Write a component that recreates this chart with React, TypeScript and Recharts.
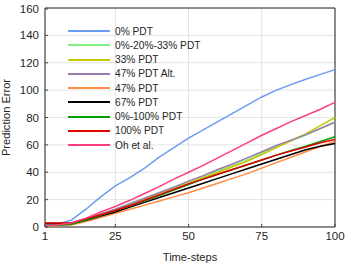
import React from "react";
import { LineChart, Line, XAxis, YAxis, CartesianGrid, ReferenceArea } from "recharts";

const steps = [1, 5, 10, 15, 20, 25, 30, 35, 40, 45, 50, 55, 60, 65, 70, 75, 80, 85, 90, 95, 100];

const pdt0 = [1.5, 2, 5, 13, 22, 30, 36, 43, 51, 58, 65, 71, 77, 83, 89, 95, 100, 104, 108, 111.5, 115];
const pdt0_20_33 = [1, 1.2, 2, 5, 9, 13, 17, 21, 25, 29, 33, 37, 41, 45, 49, 54, 59, 63, 67, 72, 77];
const pdt33 = [1, 1.2, 2, 5, 8.5, 12, 16, 20, 24, 28, 32, 36, 40, 44, 48, 53, 58, 63, 68, 74, 80];
const pdt47alt = [1, 1.5, 3, 6, 9.5, 13, 17, 21, 25, 29, 33.5, 37.5, 42, 46, 50.5, 55, 59.5, 63.5, 67.5, 72, 76.5];
const pdt47 = [1, 1, 1.5, 4, 7, 10, 13, 16, 19, 22, 25, 28.5, 32, 35.5, 39, 43, 47, 51, 55, 59, 62.5];
const pdt67 = [2.5, 2.5, 2.5, 5, 8, 11, 14.5, 18, 21.5, 25, 28.5, 32, 35.5, 39, 42.5, 46, 49.5, 53, 56.5, 59, 61];
const pdt0_100 = [1, 1.2, 2, 5, 8.5, 12, 15.5, 19, 23, 27, 31, 35, 38.5, 42, 45.5, 49, 52.5, 56, 59, 62.5, 66];
const pdt100 = [3, 3, 3, 6, 9, 12, 15.5, 19.5, 23.5, 27.5, 31.5, 35, 38.5, 42, 45.5, 49, 52.5, 55.5, 58.5, 61.5, 64];
const ohEtAl = [1, 1.5, 3, 6.5, 11, 15, 19.5, 24.5, 29.5, 35, 40, 45, 50.5, 56, 61.5, 67, 72, 77, 81.5, 86, 91];

const xTicks = [1, 25, 50, 75, 100];
const yTicks = [0, 20, 40, 60, 80, 100, 120, 140, 160];

const seriesInfo = [
  { key: "p0", name: "0% PDT", color: "#6a9cf0", values: pdt0 },
  { key: "p02033", name: "0%-20%-33% PDT", color: "#80f080", values: pdt0_20_33 },
  { key: "p33", name: "33% PDT", color: "#c8c800", values: pdt33 },
  { key: "p47a", name: "47% PDT Alt.", color: "#a07aae", values: pdt47alt },
  { key: "p47", name: "47% PDT", color: "#ff8c40", values: pdt47 },
  { key: "p67", name: "67% PDT", color: "#000000", values: pdt67 },
  { key: "p0100", name: "0%-100% PDT", color: "#00a000", values: pdt0_100 },
  { key: "p100", name: "100% PDT", color: "#e00000", values: pdt100 },
  { key: "oh", name: "Oh et al.", color: "#ff3d7f", values: ohEtAl },
];

const data = steps.map((s, i) => {
  const row: Record<string, number> = { step: s };
  seriesInfo.forEach((d) => (row[d.key] = d.values[i]));
  return row;
});

const txt = "#262626";

function LeftTick(props: any) {
  const { x, y, payload } = props;
  return (
    <g>
      <line x1={x} x2={x + 3} y1={y} y2={y} stroke="#444" />
      <text x={x - 6} y={y} dy={4} textAnchor="end" fontSize={11.5} fill={txt}>
        {payload.value}
      </text>
    </g>
  );
}

function RightTick(props: any) {
  const { x, y } = props;
  return <line x1={x - 3} x2={x} y1={y} y2={y} stroke="#444" />;
}

function BottomTick(props: any) {
  const { x, y, payload } = props;
  return (
    <g>
      <line x1={x} x2={x} y1={y} y2={y - 3} stroke="#444" />
      <text x={x} y={y + 13} textAnchor="middle" fontSize={11.5} fill={txt}>
        {payload.value}
      </text>
    </g>
  );
}

function TopTick(props: any) {
  const { x, y } = props;
  return <line x1={x} x2={x} y1={y} y2={y + 3} stroke="#444" />;
}

function LegendBox() {
  return (
    <div
      style={{
        position: "absolute",
        left: 68,
        top: 24,
        fontFamily: "Liberation Sans, Arial, sans-serif",
        fontSize: 10.2,
        color: txt,
      }}
    >
      {seriesInfo.map((d) => (
        <div key={d.key} style={{ display: "flex", alignItems: "center", height: 14.25 }}>
          <div style={{ width: 42, height: 0, borderTop: `2px solid ${d.color}`, marginRight: 5 }} />
          <span>{d.name}</span>
        </div>
      ))}
    </div>
  );
}

export default function App() {
  return (
    <div style={{ position: "absolute", left: 0, top: 0, width: 347, height: 263, background: "#fff", fontFamily: "Liberation Sans, Arial, sans-serif" }}>
      <LineChart width={347} height={263} data={data} margin={{ top: 8, right: 12, bottom: 0, left: 0 }}>
        <CartesianGrid xAxisId="b" yAxisId="l" stroke="#e3e3e3" />
        <XAxis
          xAxisId="b"
          dataKey="step"
          type="number"
          domain={[1, 100]}
          ticks={xTicks}
          tickSize={0}
          tickMargin={0}
          tick={<BottomTick />}
          axisLine={false}
          height={36}
          label={{ value: "Time-steps", position: "insideBottom", offset: 2, fontSize: 11.1, fill: txt }}
        />
        <XAxis
          xAxisId="t"
          orientation="top"
          dataKey="step"
          type="number"
          domain={[1, 100]}
          ticks={xTicks}
          tickSize={0}
          tickMargin={0}
          tick={<TopTick />}
          axisLine={false}
          height={0}
        />
        <YAxis
          yAxisId="l"
          domain={[0, 160]}
          ticks={yTicks}
          tickSize={0}
          tickMargin={0}
          tick={<LeftTick />}
          axisLine={false}
          width={45}
          label={{ value: "Prediction Error", angle: -90, position: "insideLeft", offset: 6, fontSize: 11.1, fill: txt, style: { textAnchor: "middle" } }}
        />
        <YAxis
          yAxisId="r"
          orientation="right"
          domain={[0, 160]}
          ticks={yTicks}
          tickSize={0}
          tickMargin={0}
          tick={<RightTick />}
          axisLine={false}
          width={0}
        />
        <ReferenceArea xAxisId="b" yAxisId="l" x1={1} x2={100} y1={0} y2={160} fill="none" stroke="#262626" strokeWidth={1} ifOverflow="visible" />
        {seriesInfo.map((d) => (
          <Line
            key={d.key}
            xAxisId="b"
            yAxisId="l"
            type="linear"
            dataKey={d.key}
            name={d.name}
            stroke={d.color}
            strokeWidth={1.5}
            dot={false}
            isAnimationActive={false}
          />
        ))}
      </LineChart>
      <LegendBox />
    </div>
  );
}
